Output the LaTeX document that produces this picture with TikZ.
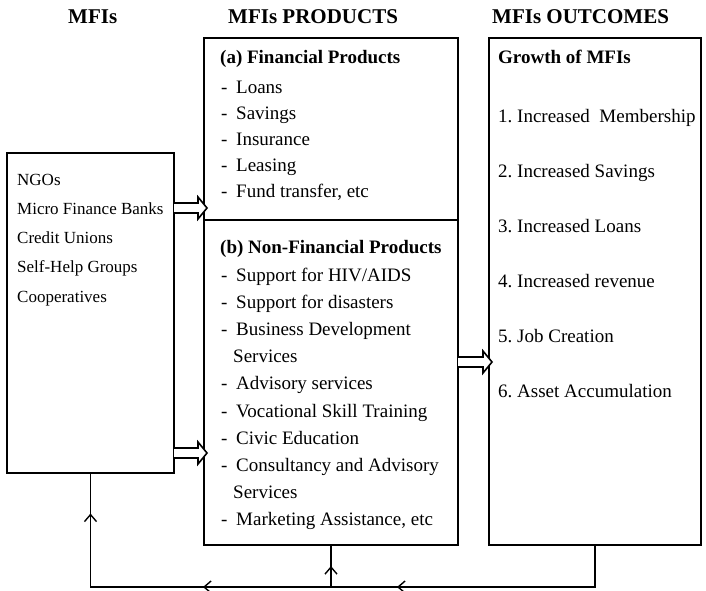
\documentclass[tikz,border=0pt]{standalone}
\usepackage{fontspec}
\setmainfont{Liberation Serif}
\usetikzlibrary{arrows.meta,decorations.markings}

% hollow block arrow starting at #1 (centre of its tail), shaft length #2
\newcommand\hollowarrow[2]{%
  \draw[blockarrow] (#1) ++(0,-5) -- ++(#2,0) -- ++(0,-6) -- ++(9,11)
    -- ++(-9,11) -- ++(0,-6) -- ++(-#2,0);}

\begin{document}
\begin{tikzpicture}[x=1pt,y=-1pt,
  box/.style={draw,line width=1.8pt,inner sep=0pt,outer sep=0pt,anchor=north west},
  title/.style={font=\fontsize{21}{24}\selectfont\bfseries,anchor=base west,inner sep=0pt},
  head/.style={font=\fontsize{19}{22}\selectfont\bfseries,anchor=base west,inner sep=0pt},
  lefttxt/.style={font=\fontsize{17}{20}\selectfont,anchor=base west,inner sep=0pt},
  item/.style={font=\fontsize{19}{22}\selectfont,anchor=base west,inner sep=0pt},
  blockarrow/.style={draw,line width=1.6pt,line join=miter,fill=white},
  feedback/.style={draw,line width=1.7pt},
  barbtip/.style={line width=1.4pt},
  barb/.style={decoration={markings,mark=at position #1 with
      {\arrow[barbtip]{Straight Barb[length=7pt,width=12pt]}}},postaction={decorate}}
]
\useasboundingbox (0,0) rectangle (706,590);

% column titles
\node[title] (t1) at (68,23) {MFIs};
\node[title] (t2) at (228,23) {MFIs PRODUCTS};
\node[title] (t3) at (492,23) {MFIs OUTCOMES};

% the three boxes
\node[box,line width=2.6pt,minimum width=167pt,minimum height=320pt] (L) at (7,153) {};
\node[box,minimum width=254pt,minimum height=507pt] (M) at (204,38) {};
\node[box,minimum width=212pt,minimum height=507pt] (R) at (489,38) {};
\coordinate (dv) at (0,220);
\draw[line width=1.8pt] (M.west |- dv) -- (M.east |- dv);

% institutions
\foreach \t [count=\i] in {NGOs,Micro Finance Banks,Credit Unions,Self-Help Groups,Cooperatives}
  \node[lefttxt] (l\i) at (17,{185+(\i-1)*29.3}) {\t};

% financial products
\node[head] (ha) at (220,63) {(a) Financial Products};
\foreach \t [count=\i] in {Loans,Savings,Insurance,Leasing,{Fund transfer, etc}}
  \node[item] (a\i) at (221,{93+(\i-1)*26}) {\makebox[15pt][l]{-}\t};

% non-financial products
\node[head] (hb) at (220,253) {(b) Non-Financial Products};
\node[item] (b1) at (221,281) {\makebox[15pt][l]{-}Support for HIV/AIDS};
\node[item] (b2) at (221,308) {\makebox[15pt][l]{-}Support for disasters};
\node[item] (b3) at (221,335) {\makebox[15pt][l]{-}Business Development};
\node[item] (b4) at (233,362) {Services};
\node[item] (b5) at (221,389) {\makebox[15pt][l]{-}Advisory services};
\node[item] (b6) at (221,417) {\makebox[15pt][l]{-}Vocational Skill Training};
\node[item] (b7) at (221,444) {\makebox[15pt][l]{-}Civic Education};
\node[item] (b8) at (221,471) {\makebox[15pt][l]{-}Consultancy and Advisory};
\node[item] (b9) at (233,498) {Services};
\node[item] (b10) at (221,525) {\makebox[15pt][l]{-}Marketing Assistance, etc};

% outcomes
\node[head] (hg) at (498,63) {Growth of MFIs};
\foreach \t [count=\i] in {1.\ Increased\ \ Membership,2.\ Increased Savings,3.\ Increased Loans,
    4.\ Increased revenue,5.\ Job Creation,6.\ Asset Accumulation}
  \node[item] (o\i) at (498,{122+(\i-1)*55}) {\t};

% block arrows between the boxes
\coordinate (y1) at (0,208);
\coordinate (y2) at (0,453);
\coordinate (y3) at (0,362);
\hollowarrow{L.east |- y1}{24}
\hollowarrow{L.east |- y2}{24}
\hollowarrow{M.east |- y3}{25}

% feedback loop along the bottom
\coordinate (yb) at (0,587);
\coordinate (fb) at (M.south |- yb);
\draw[feedback,barb=240pt] (R.south) |- (fb);
\draw[feedback,decoration={markings,
    mark=at position 128pt with {\arrow[barbtip]{Straight Barb[length=7pt,width=12pt]}},
    mark=at position 314pt with {\arrow[barbtip]{Straight Barb[length=7pt,width=12pt]}}},
    postaction={decorate}] (fb) -| (L.south);
\draw[feedback,barb=21pt] (fb) -- (M.south);
\end{tikzpicture}
\end{document}
